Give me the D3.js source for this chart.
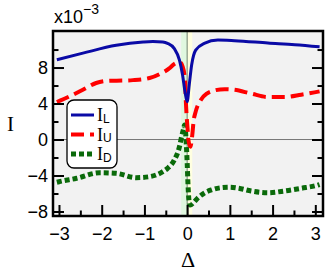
<!DOCTYPE html>
<html>
<head>
<meta charset="utf-8">
<script src="https://cdn.jsdelivr.net/npm/d3@7"></script>
<style>
  body { margin: 0; background: #fff; }
  svg { display: block; }
  .tick text { font-family: "Liberation Sans", Arial, sans-serif; font-size: 18px; fill: #000; }
</style>
</head>
<body>
<div id="chart"></div>
<script>
// values in units of 1e-3
const lDelta = [-3.05, -2.44, -1.66, -1.03, -0.8, -0.57, -0.46, -0.3, -0.18, -0.107, -0.05, 0, 0.05, 0.105, 0.2, 0.4, 0.72, 1.11, 1.89, 2.52, 3.1];
const lValues = [8.87, 9.6, 10.47, 10.83, 10.88, 10.83, 10.69, 10.1, 8.83, 7.17, 5.3, 4.2, 6.1, 8.28, 9.94, 10.69, 11.05, 10.98, 10.72, 10.53, 10.3];

const uDelta = [-3.05, -2.75, -2.44, -2.13, -1.81, -1.5, -1.27, -0.88, -0.64, -0.42, -0.3, -0.18, -0.105, -0.05, -0.03, -0.01, 0.01, 0.03, 0.075, 0.12, 0.15, 0.2, 0.32, 0.46, 0.57, 0.88, 1.11, 1.5, 1.89, 2.28, 2.67, 2.98, 3.1];
const uValues = [4.17, 4.8, 5.53, 6.28, 6.53, 6.55, 6.6, 6.83, 7.28, 7.9, 8.4, 8.6, 8.1, 6.6, 4.2, 2.5, 1.2, -0.06, -0.8, 0.5, 2.0, 3.1, 4.4, 5.1, 5.35, 5.6, 5.53, 5.1, 4.72, 4.72, 4.98, 5.24, 5.35];

const dDelta = [-3.05, -3.0, -2.59, -2.05, -1.66, -1.19, -0.88, -0.57, -0.46, -0.3, -0.18, -0.13, -0.08, -0.06, -0.04, -0.02, 0, 0.02, 0.04, 0.07, 0.15, 0.25, 0.4, 0.57, 0.8, 1.0, 1.19, 1.5, 1.89, 2.28, 2.67, 3.06, 3.1];
const dValues = [-4.75, -4.69, -4.31, -3.69, -3.76, -4.24, -4.13, -3.57, -3.2, -2.28, -0.8, 0.31, 1.24, 1.6, 1.0, -0.5, -2.5, -5.0, -6.6, -7.28, -7.0, -6.5, -5.95, -5.6, -5.35, -5.3, -5.4, -5.72, -5.91, -5.72, -5.42, -5.06, -5.0];

const xMajor = [-3, -2, -1, 0, 1, 2, 3];
const xMinor = [-2.5, -1.5, -0.5, 0.5, 1.5, 2.5];
const yMajor = [-8, -4, 0, 4, 8];
const yMinor = [-6, -2, 2, 6, 10];

const series = [
  { name: "L", delta: lDelta, values: lValues, color: "#0a0aa6", width: 3, dash: null },
  { name: "U", delta: uDelta, values: uValues, color: "#ff0000", width: 4, dash: "13,6" },
  { name: "D", delta: dDelta, values: dValues, color: "#0a6a0a", width: 5, dash: "5,3" }
];

const width = 332, height = 274;
const plot = { left: 53, right: 323, top: 31, bottom: 216 };

const svg = d3.select("#chart").append("svg")
  .attr("width", width)
  .attr("height", height);

const x = d3.scaleLinear().domain([-3.14, 3.18]).range([plot.left, plot.right]);
const y = d3.scaleLinear().domain([-8.5, 12.06]).range([plot.bottom, plot.top]);
const intFormat = d3.format("d");

svg.append("defs").append("clipPath").attr("id", "clip")
  .append("rect")
  .attr("x", plot.left).attr("y", plot.top)
  .attr("width", plot.right - plot.left).attr("height", plot.bottom - plot.top);

const inner = svg.append("g").attr("clip-path", "url(#clip)");

inner.append("rect")
  .attr("x", plot.left).attr("y", plot.top)
  .attr("width", plot.right - plot.left).attr("height", plot.bottom - plot.top)
  .attr("fill", "#f2f2f2");

// shaded strips either side of zero
inner.append("rect")
  .attr("x", x(-0.14)).attr("y", plot.top)
  .attr("width", x(0) - x(-0.14)).attr("height", plot.bottom - plot.top)
  .attr("fill", "#e0f7df");
inner.append("rect")
  .attr("x", x(0)).attr("y", plot.top)
  .attr("width", x(0.12) - x(0)).attr("height", plot.bottom - plot.top)
  .attr("fill", "#ffffe0");

inner.append("line")
  .attr("x1", plot.left).attr("x2", plot.right)
  .attr("y1", y(0)).attr("y2", y(0))
  .attr("stroke", "#777").attr("stroke-width", 1);
inner.append("line")
  .attr("x1", x(0)).attr("x2", x(0))
  .attr("y1", plot.top).attr("y2", plot.bottom)
  .attr("stroke", "#6f806f").attr("stroke-width", 1);

const line = d3.line()
  .x(d => x(d[0]))
  .y(d => y(d[1]))
  .curve(d3.curveMonotoneX);

[series[2], series[1], series[0]].forEach(s => {
  inner.append("path")
    .datum(s.delta.map((d, i) => [d, s.values[i]]))
    .attr("d", line)
    .attr("fill", "none")
    .attr("stroke", s.color)
    .attr("stroke-width", s.width)
    .attr("stroke-dasharray", s.dash);
});

// legend
const legend = svg.append("g").attr("class", "legend");
legend.append("rect")
  .attr("x", 67).attr("y", 100)
  .attr("width", 50).attr("height", 68)
  .attr("rx", 7)
  .attr("fill", "#fff")
  .attr("stroke", "#000")
  .attr("stroke-width", 1.3);

series.forEach((s, i) => {
  const ly = 115 + i * 19.5;
  legend.append("line")
    .attr("x1", 71).attr("x2", 94)
    .attr("y1", ly).attr("y2", ly)
    .attr("stroke", s.color)
    .attr("stroke-width", s.width)
    .attr("stroke-dasharray", s.dash);
  const t = legend.append("text")
    .attr("x", 97).attr("y", ly + 6)
    .style("font-family", "'Liberation Serif', 'Times New Roman', serif")
    .style("font-size", "18px")
    .text("I");
  t.append("tspan")
    .attr("dy", 1.5)
    .style("font-family", "'Liberation Sans', Arial, sans-serif")
    .style("font-size", "12px")
    .text(s.name);
});

// axes: ticks point inward
const axisStyle = g => {
  g.select(".domain").remove();
  g.selectAll(".tick line").attr("stroke", "#000").attr("stroke-width", 2);
};

svg.append("g")
  .attr("transform", `translate(${plot.left},0)`)
  .call(d3.axisLeft(y).tickValues(yMajor).tickFormat(intFormat).tickSizeInner(-11).tickSizeOuter(0).tickPadding(5))
  .call(axisStyle);
svg.append("g")
  .attr("transform", `translate(${plot.left},0)`)
  .call(d3.axisLeft(y).tickValues(yMinor).tickSizeInner(-5.5).tickSizeOuter(0).tickFormat(""))
  .call(axisStyle);
svg.append("g")
  .attr("transform", `translate(${plot.right},0)`)
  .call(d3.axisRight(y).tickValues(yMajor).tickSizeInner(-11).tickSizeOuter(0).tickFormat(""))
  .call(axisStyle);
svg.append("g")
  .attr("transform", `translate(${plot.right},0)`)
  .call(d3.axisRight(y).tickValues(yMinor).tickSizeInner(-5.5).tickSizeOuter(0).tickFormat(""))
  .call(axisStyle);
svg.append("g")
  .attr("transform", `translate(0,${plot.bottom})`)
  .call(d3.axisBottom(x).tickValues(xMajor).tickFormat(intFormat).tickSizeInner(-11).tickSizeOuter(0).tickPadding(11))
  .call(axisStyle);
svg.append("g")
  .attr("transform", `translate(0,${plot.bottom})`)
  .call(d3.axisBottom(x).tickValues(xMinor).tickSizeInner(-5.5).tickSizeOuter(0).tickFormat(""))
  .call(axisStyle);

svg.append("rect")
  .attr("x", plot.left).attr("y", plot.top)
  .attr("width", plot.right - plot.left).attr("height", plot.bottom - plot.top)
  .attr("fill", "none")
  .attr("stroke", "#000")
  .attr("stroke-width", 2.5);

// labels
const mult = svg.append("text")
  .attr("x", 54).attr("y", 23)
  .style("font-family", "'Liberation Sans', Arial, sans-serif")
  .style("font-size", "18px")
  .text("x10");
mult.append("tspan")
  .attr("dy", -9)
  .style("font-size", "14px")
  .text("\u22123");

svg.append("text")
  .attr("x", 10.5).attr("y", 131)
  .attr("text-anchor", "middle")
  .style("font-family", "'Liberation Serif', 'Times New Roman', serif")
  .style("font-size", "21px")
  .text("I");

svg.append("text")
  .attr("x", x(0) + 1).attr("y", 267)
  .attr("text-anchor", "middle")
  .style("font-family", "'Liberation Serif', 'Times New Roman', serif")
  .style("font-size", "22px")
  .text("\u0394");
</script>
</body>
</html>
